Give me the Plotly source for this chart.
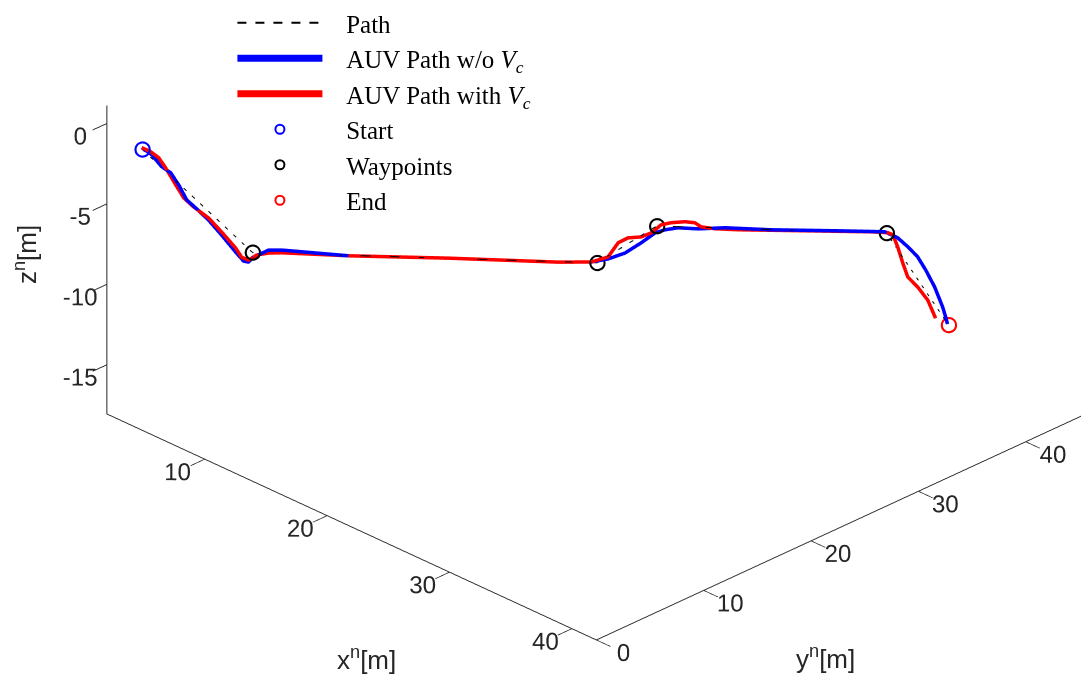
import plotly.graph_objects as go

# Planned path: start, waypoints, end (x, y, z in metres)
path_x = [2.6, 7.4, 22.4, 25.0, 35.0, 37.7]
path_y = [2.6, 7.4, 22.4, 25.0, 35.0, 37.7]
path_z = [-2.2, -8.4, -8.4, -6.0, -6.0, -11.6]

# AUV trajectory without ocean current
auv_x = [2.58, 3.01, 3.45, 3.84, 4.19, 4.54, 4.93, 5.49, 6.06, 6.67, 7.02, 7.23, 7.45,
         8.10, 8.67, 11.58, 15.93, 20.71, 22.15, 22.88, 23.62, 24.32, 24.93, 25.36,
         25.93, 26.80, 27.97, 29.97, 32.88, 34.93, 35.49, 35.93, 36.36, 36.71, 37.10,
         37.45, 37.58, 37.66]
auv_y = auv_x
auv_z = [-2.09, -2.51, -3.24, -3.60, -4.34, -5.26, -5.74, -6.47, -7.38, -8.41, -8.96,
         -9.01, -8.69, -8.23, -8.20, -8.43, -8.39, -8.43, -8.36, -8.14, -7.74, -7.08,
         -6.43, -6.22, -6.07, -6.10, -5.98, -6.02, -5.96, -5.93, -6.28, -6.82, -7.43,
         -8.23, -9.27, -10.51, -11.12, -11.55]

# AUV trajectory with ocean current V_c
cur_x = [2.58, 2.97, 3.32, 3.62, 4.06, 4.41, 4.84, 5.49, 6.06, 6.67, 6.93, 7.23, 7.58,
         8.10, 8.67, 11.58, 15.93, 20.71, 22.15, 22.88, 23.32, 23.75, 24.32, 24.76,
         25.19, 25.62, 26.23, 26.67, 26.93, 27.54, 28.54, 31.45, 34.32, 35.06, 35.28,
         35.49, 35.71, 35.93, 36.36, 36.80, 37.14]
cur_y = cur_x
cur_z = [-2.09, -2.33, -2.69, -3.30, -4.34, -5.14, -5.68, -6.34, -7.19, -8.16, -8.72,
         -8.89, -8.56, -8.41, -8.37, -8.43, -8.39, -8.43, -8.36, -8.02, -7.12, -6.79,
         -6.71, -6.44, -5.92, -5.77, -5.68, -5.73, -5.97, -6.06, -6.08, -6.02, -5.96,
         -5.98, -6.10, -6.84, -7.83, -8.70, -9.30, -10.10, -11.21]

x_ticks = [10, 20, 30, 40]
y_ticks = [0, 10, 20, 30, 40]
z_ticks = [-15, -10, -5, 0]
z_tick_text = ["-15", "-10", "-5", "0"]

NB = "\u00a0\u00a0\u00a0"  # gap between legend sample and label
AX = "#262626"

fig = go.Figure()
fig.add_trace(go.Scatter3d(x=path_x, y=path_y, z=path_z, mode="lines", name=NB + "Path",
                           line=dict(color="black", width=2, dash="dash")))
fig.add_trace(go.Scatter3d(x=auv_x, y=auv_y, z=auv_z, mode="lines",
                           name=NB + "AUV Path w/o <i>V</i><sub><i>c</i></sub>",
                           line=dict(color="#0000ff", width=7)))
fig.add_trace(go.Scatter3d(x=cur_x, y=cur_y, z=cur_z, mode="lines",
                           name=NB + "AUV Path with <i>V</i><sub><i>c</i></sub>",
                           line=dict(color="#ff0000", width=7)))
fig.add_trace(go.Scatter3d(x=path_x[:1], y=path_y[:1], z=path_z[:1], mode="markers",
                           name=NB + "Start",
                           marker=dict(symbol="circle-open", size=9, color="#0000ff",
                                       line=dict(width=2, color="#0000ff"))))
fig.add_trace(go.Scatter3d(x=path_x[1:-1], y=path_y[1:-1], z=path_z[1:-1], mode="markers",
                           name=NB + "Waypoints",
                           marker=dict(symbol="circle-open", size=9, color="black",
                                       line=dict(width=2, color="black"))))
fig.add_trace(go.Scatter3d(x=path_x[-1:], y=path_y[-1:], z=path_z[-1:], mode="markers",
                           name=NB + "End",
                           marker=dict(symbol="circle-open", size=9, color="#ff0000",
                                       line=dict(width=2, color="#ff0000"))))

axis_common = dict(showgrid=False, showbackground=False, zeroline=False,
                   showline=True, linecolor=AX, linewidth=2,
                   ticks="outside", tickcolor=AX, ticklen=20, tickwidth=2, tickangle=0,
                   tickfont=dict(family="Liberation Sans, Arial", size=17, color=AX),
                   showspikes=False, title=dict(text=""))

# camera: view direction plus a shift of the look-at point
view_dir = (1.868, -1.868, 1.375)
look_at = (-0.0376, -0.1948, -0.2079)
eye = tuple(c + d for c, d in zip(look_at, view_dir))

title_font = dict(family="Liberation Sans, Arial", size=26, color=AX)

# axis title centres in pixels (x from left, y from top)
titles = [("x<sup>n</sup>[m]", 366, 658, 0),
          ("y<sup>n</sup>[m]", 825, 657, 0),
          ("z<sup>n</sup>[m]", 25, 255, -90)]

fig.update_layout(
    width=1081, height=680,
    paper_bgcolor="white",
    margin=dict(l=0, r=0, t=0, b=0),
    font=dict(family="Liberation Sans, Arial", color=AX),
    scene=dict(
        domain=dict(x=[0, 1.0], y=[0, 1.0]),
        xaxis=dict(axis_common, range=[2, 42], tickvals=x_ticks),
        yaxis=dict(axis_common, range=[0, 45.6], tickvals=y_ticks),
        zaxis=dict(axis_common, range=[-18.06, 1.1], tickvals=z_ticks,
                   ticktext=z_tick_text),
        aspectmode="manual",
        aspectratio=dict(x=2.036, y=2.036, z=1.022),
        camera=dict(eye=dict(x=eye[0], y=eye[1], z=eye[2]),
                    up=dict(x=0, y=0, z=1),
                    center=dict(x=look_at[0], y=look_at[1], z=look_at[2]),
                    projection=dict(type="orthographic")),
        bgcolor="white",
    ),
    annotations=[
        dict(text=t, x=px / 1081, y=1 - py / 680, xref="paper", yref="paper",
             xanchor="center", yanchor="middle", textangle=ang,
             showarrow=False, font=title_font)
        for t, px, py, ang in titles
    ],
    legend=dict(x=0.215, y=1.0, xanchor="left", yanchor="top",
                bgcolor="rgba(255,255,255,0)",
                font=dict(family="Liberation Serif, Times New Roman", size=25, color="black"),
                itemwidth=85),
    showlegend=True,
)

fig.write_html("out.html")
